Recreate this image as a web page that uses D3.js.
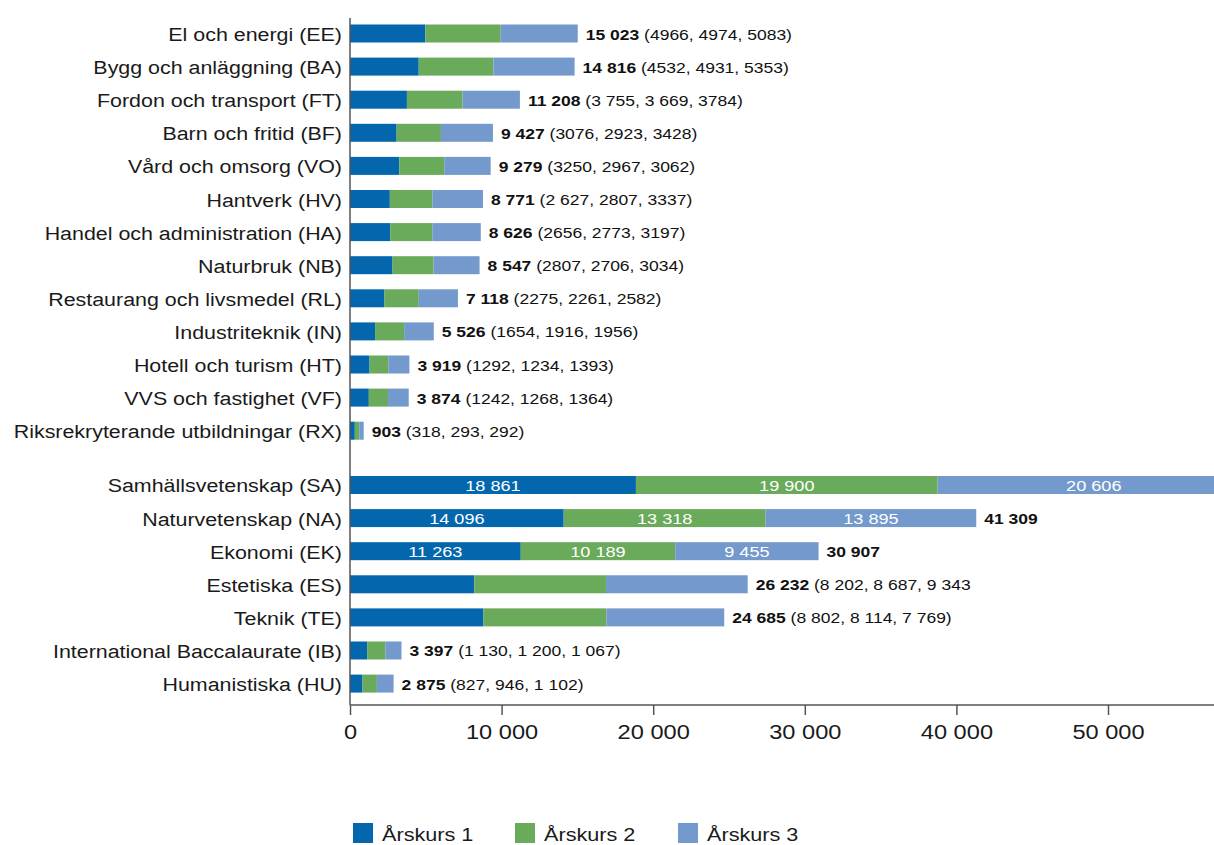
<!DOCTYPE html>
<html>
<head>
<meta charset="utf-8">
<script src="https://cdn.jsdelivr.net/npm/d3@7"></script>
<style>
  body { margin: 0; background: #fff; }
  text { font-family: "Liberation Sans", Arial, sans-serif; }
</style>
</head>
<body>
<script>
// categories, top to bottom
var categories = ["El och energi (EE)", "Bygg och anläggning (BA)", "Fordon och transport (FT)",
  "Barn och fritid (BF)", "Vård och omsorg (VO)", "Hantverk (HV)", "Handel och administration (HA)",
  "Naturbruk (NB)", "Restaurang och livsmedel (RL)", "Industriteknik (IN)", "Hotell och turism (HT)",
  "VVS och fastighet (VF)", "Riksrekryterande utbildningar (RX)",
  "Samhällsvetenskap (SA)", "Naturvetenskap (NA)", "Ekonomi (EK)", "Estetiska (ES)", "Teknik (TE)",
  "International Baccalaurate (IB)", "Humanistiska (HU)"];

var year1 = [4966, 4532, 3755, 3076, 3250, 2627, 2656, 2807, 2275, 1654, 1292, 1242, 318,
  18861, 14096, 11263, 8202, 8802, 1130, 827];
var year2 = [4974, 4931, 3669, 2923, 2967, 2807, 2773, 2706, 2261, 1916, 1234, 1268, 293,
  19900, 13318, 10189, 8687, 8114, 1200, 946];
var year3 = [5083, 5353, 3784, 3428, 3062, 3337, 3197, 3034, 2582, 1956, 1393, 1364, 292,
  20606, 13895, 9455, 9343, 7769, 1067, 1102];

// labels as printed
var totalLabels = ["15 023", "14 816", "11 208", "9 427", "9 279", "8 771", "8 626", "8 547", "7 118",
  "5 526", "3 919", "3 874", "903", "", "41 309", "30 907", "26 232", "24 685", "3 397", "2 875"];
var partLabels = ["(4966, 4974, 5083)", "(4532, 4931, 5353)", "(3 755, 3 669, 3784)", "(3076, 2923, 3428)",
  "(3250, 2967, 3062)", "(2 627, 2807, 3337)", "(2656, 2773, 3197)", "(2807, 2706, 3034)",
  "(2275, 2261, 2582)", "(1654, 1916, 1956)", "(1292, 1234, 1393)", "(1242, 1268, 1364)",
  "(318, 293, 292)", "", "", "", "(8 202, 8 687, 9 343", "(8 802, 8 114, 7 769)",
  "(1 130, 1 200, 1 067)", "(827, 946, 1 102)"];
// rows with values written inside the bars
var insideRows = [13, 14, 15];

var seriesNames = ["Årskurs 1", "Årskurs 2", "Årskurs 3"];
var colors = ["#0467ae", "#69aa5b", "#7499cc"];
var xTicks = [0, 10000, 20000, 30000, 40000, 50000];

var W = 1214, H = 845;
var x0 = 350, groupBreak = 13;

var locale = d3.formatLocale({decimal: ",", thousands: " ", grouping: [3], currency: ["", " kr"]});
var fmt = locale.format(",d");

// the original type is set wide, so text gets a horizontal stretch
function wide(px, py, s) { return "translate(" + px + "," + py + ") scale(" + s + ",1)"; }

var svg = d3.select("body").append("svg")
  .attr("width", W).attr("height", H);

var x = d3.scaleLinear().domain([0, 10000]).range([x0, x0 + 151.6]);
// slot position, with extra space between the two groups
var slot = d3.scaleLinear().domain([0, 1]).range([33.5, 66.6]);
function yc(i) { return slot(i + (i >= groupBreak ? 0.64 : 0)); }
var barH = 18;

var rows = categories.map(function(c, i) {
  return {name: c, i: i, vals: [year1[i], year2[i], year3[i]]};
});

var stack = d3.stack().keys([0, 1, 2]).value(function(d, k) { return d.vals[k]; });
var layers = stack(rows);

svg.selectAll("g.layer")
  .data(layers)
  .enter().append("g")
  .attr("class", "layer")
  .attr("fill", function(d, k) { return colors[k]; })
  .selectAll("rect")
  .data(function(d) { return d; })
  .enter().append("rect")
  .attr("x", function(d) { return x(d[0]); })
  .attr("width", function(d) { return x(d[1]) - x(d[0]); })
  .attr("y", function(d) { return yc(d.data.i) - barH / 2; })
  .attr("height", barH);

// values inside the big bars
layers.forEach(function(layer, k) {
  svg.append("g").selectAll("text")
    .data(layer.filter(function(d) { return insideRows.indexOf(d.data.i) >= 0; }))
    .enter().append("text")
    .attr("transform", function(d) { return wide((x(d[0]) + x(d[1])) / 2, yc(d.data.i) + 6, 1.17); })
    .attr("text-anchor", "middle")
    .attr("fill", "#fff")
    .style("font-size", "15.5px")
    .text(function(d) { return fmt(d.data.vals[k]); });
});

// total + parts labels
var lab = svg.append("g").selectAll("text")
  .data(rows)
  .enter().append("text")
  .attr("transform", function(d) { return wide(x(d3.sum(d.vals)) + 8, yc(d.i) + 6, 1.13); })
  .attr("fill", "#111")
  .style("font-size", "15.5px");
lab.append("tspan").attr("font-weight", "bold").text(function(d) { return totalLabels[d.i]; });
lab.append("tspan").text(function(d) { return partLabels[d.i] ? " " + partLabels[d.i] : ""; });

// category labels
svg.append("g").selectAll("text")
  .data(rows)
  .enter().append("text")
  .attr("transform", function(d) { return wide(x0 - 8, yc(d.i) + 7.5, 1.19); })
  .attr("text-anchor", "end")
  .attr("fill", "#1a1a1a")
  .style("font-size", "18px")
  .text(function(d) { return d.name; });

// axes
var axisY = 705;
svg.append("line")
  .attr("x1", x0).attr("x2", x0).attr("y1", 18).attr("y2", axisY)
  .attr("stroke", "#555").attr("stroke-width", 1.5);

var xAxis = svg.append("g")
  .attr("transform", "translate(0," + axisY + ")")
  .call(d3.axisBottom(x).tickValues(xTicks).tickFormat(fmt).tickSize(10).tickPadding(9));
xAxis.select(".domain").attr("stroke", "#555").attr("stroke-width", 1.5)
  .attr("d", "M" + x0 + ",0H" + W);
xAxis.selectAll(".tick line").attr("stroke", "#555").attr("stroke-width", 1.5);
xAxis.selectAll(".tick text")
  .attr("fill", "#1a1a1a")
  .attr("transform", "scale(1.125,1)")
  .style("font-size", "21px")
  .style("font-family", "Liberation Sans, Arial, sans-serif");

// legend
var legendX = [353, 515, 678];
var leg = svg.append("g").selectAll("g")
  .data(seriesNames)
  .enter().append("g")
  .attr("transform", function(d, k) { return "translate(" + legendX[k] + ",823)"; });
leg.append("rect").attr("width", 20).attr("height", 20)
  .attr("fill", function(d, k) { return colors[k]; });
leg.append("text").attr("transform", wide(29, 18, 1.14))
  .attr("fill", "#1a1a1a")
  .style("font-size", "19px")
  .text(function(d) { return d; });
</script>
</body>
</html>
